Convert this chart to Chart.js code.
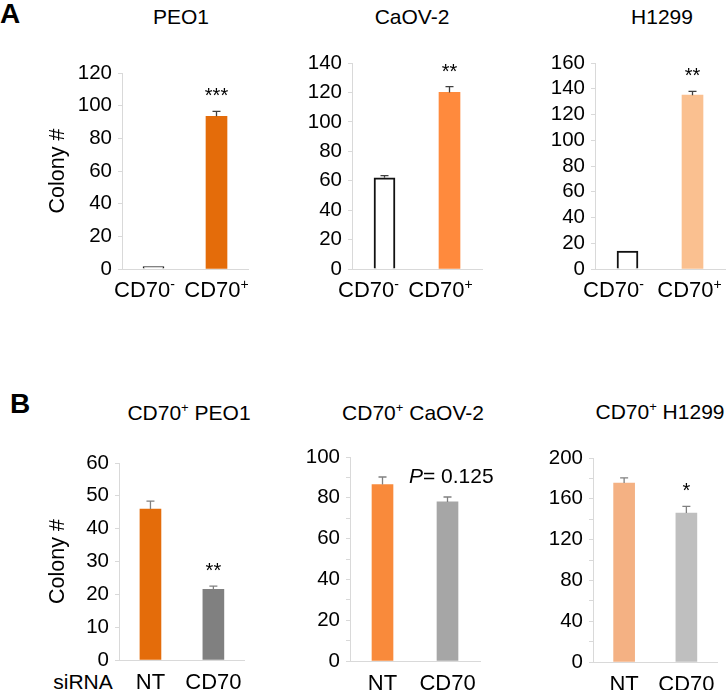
<!DOCTYPE html>
<html>
<head>
<meta charset="utf-8">
<script src="https://cdn.jsdelivr.net/npm/chart.js@4.4.1/dist/chart.umd.min.js"></script>
<style>
    body { margin: 0; background: #fff; }
    #fig { position: relative; width: 728px; height: 690px; overflow: hidden; font-family: "Liberation Sans", Arial, sans-serif; color: #000; }
    .panel { position: absolute; }
    .txt { position: absolute; transform: translate(-50%, -50%); white-space: nowrap; font-size: 21px; }
    .lbl { position: absolute; font-weight: bold; font-size: 28px; line-height: 1; }
    sup { font-size: 13px; vertical-align: 8px; line-height: 0; }
</style>
</head>
<body>
<div id="fig">
    <div class="lbl" style="left:0px; top:0px;">A</div>
    <div class="lbl" style="left:10px; top:390px;">B</div>

    <div class="txt" style="left:181px; top:17px;">PEO1</div>
    <div class="txt" style="left:412px; top:17px;">CaOV-2</div>
    <div class="txt" style="left:662px; top:17px;">H1299</div>

    <div class="txt" style="left:189px; top:413px;">CD70<sup>+</sup> PEO1</div>
    <div class="txt" style="left:413px; top:413px;">CD70<sup>+</sup> CaOV-2</div>
    <div class="txt" style="left:660px; top:412px;">CD70<sup>+</sup> H1299</div>

    <div class="txt" style="left:83px; top:682px;">siRNA</div>

    <div class="panel" style="left:0px; top:40px; width:250px; height:269px;"><canvas id="a1"></canvas></div>
    <div class="panel" style="left:290px; top:40px; width:194px; height:269px;"><canvas id="a2"></canvas></div>
    <div class="panel" style="left:533px; top:40px; width:194px; height:269px;"><canvas id="a3"></canvas></div>
    <div class="panel" style="left:0px; top:430px; width:252px; height:260px;"><canvas id="b1"></canvas></div>
    <div class="panel" style="left:288px; top:430px; width:220px; height:260px;"><canvas id="b2"></canvas></div>
    <div class="panel" style="left:531px; top:430px; width:194px; height:260px;"><canvas id="b3"></canvas></div>
</div>

<script>
// 데이터
const groupsA = ["CD70⁻", "CD70⁺"];
const groupsB = ["NT", "CD70"];

// A: CD70- vs CD70+ 콜로니 수
const peo1Colonies = [1.5, 93.5];
const peo1Err = [0, 3];
const peo1Stars = ["", "***"];

const caov2Colonies = [62, 120];
const caov2Err = [1.5, 4];
const caov2Stars = ["", "**"];

const h1299Colonies = [14, 135];
const h1299Err = [0, 3];
const h1299Stars = ["", "**"];

// B: siRNA NT vs CD70
const peo1SiColonies = [46, 21.5];
const peo1SiErr = [2.4, 1];
const peo1SiStars = ["", "**"];

const caov2SiColonies = [86.5, 78];
const caov2SiErr = [3.7, 2.4];

const h1299SiColonies = [175.5, 146];
const h1299SiErr = [5, 6.5];
const h1299SiStars = ["", "*"];

const FONT = '"Liberation Sans", Arial, sans-serif';
Chart.defaults.font.family = FONT;
Chart.defaults.color = "#000";

// 에러바 + 별표 + 위첨자 라벨 플러그인
const errorBars = {
    id: "errorBars",
    afterDatasetsDraw(chart, args, opts) {
        const ctx = chart.ctx;
        const y = chart.scales.y;
        const ds = chart.data.datasets[0];
        const meta = chart.getDatasetMeta(0);
        ctx.save();
        ctx.strokeStyle = opts.color || "#404040";
        ctx.lineWidth = 1.3;
        meta.data.forEach((bar, i) => {
            const v = ds.data[i];
            const e = (opts.errors || [])[i] || 0;
            const top = y.getPixelForValue(v + e);
            if (e > 0) {
                ctx.beginPath();
                ctx.moveTo(bar.x, bar.y);
                ctx.lineTo(bar.x, top);
                ctx.moveTo(bar.x - 4, top);
                ctx.lineTo(bar.x + 4, top);
                ctx.stroke();
            }
            const s = (opts.stars || [])[i];
            if (s) {
                ctx.fillStyle = "#000";
                ctx.font = "20px " + FONT;
                ctx.textAlign = "center";
                ctx.textBaseline = "alphabetic";
                ctx.fillText(s, bar.x, top - 9);
            }
        });
        // P 값 표시
        if (opts.pText) {
            const x0 = (meta.data[0].x + meta.data[1].x) / 2 - 6;
            const yp = y.getPixelForValue(opts.pAt);
            ctx.fillStyle = "#000";
            ctx.textAlign = "left";
            ctx.textBaseline = "middle";
            ctx.font = "italic 21px " + FONT;
            ctx.fillText("P", x0, yp);
            const w = ctx.measureText("P").width;
            ctx.font = "21px " + FONT;
            ctx.fillText(opts.pText, x0 + w, yp);
        }
        ctx.restore();
    },
    afterDraw(chart, args, opts) {
        if (!opts.supLabels) return;
        const ctx = chart.ctx;
        const x = chart.scales.x;
        const base = x.top + 28;
        const shift = opts.labelShift || [0, 0];
        ctx.save();
        ctx.fillStyle = "#000";
        ctx.textAlign = "left";
        ctx.textBaseline = "alphabetic";
        chart.data.labels.forEach((lab, i) => {
            const main = lab.slice(0, -1);
            const sup = lab.slice(-1) === "⁺" ? "+" : "-";
            ctx.font = "22px " + FONT;
            const wm = ctx.measureText(main).width;
            ctx.font = "14px " + FONT;
            const ws = ctx.measureText(sup).width;
            const cx = x.getPixelForTick(i) + shift[i];
            const x0 = cx - (wm + ws) / 2;
            ctx.font = "22px " + FONT;
            ctx.fillText(main, x0, base);
            ctx.font = "14px " + FONT;
            ctx.fillText(sup, x0 + wm, base - 8);
        });
        ctx.restore();
    },
};

function makeChart(id, labels, values, cfg) {
    const ctx = document.getElementById(id).getContext("2d");
    return new Chart(ctx, {
        type: "bar",
        data: {
            labels: labels,
            datasets: [
                {
                    data: values,
                    backgroundColor: cfg.colors,
                    borderColor: cfg.borders || "#000",
                    borderWidth: cfg.borderWidths || 0,
                    borderSkipped: "bottom",
                    barThickness: 21,
                },
            ],
        },
        options: {
            responsive: true,
            maintainAspectRatio: false,
            animation: false,
            layout: { padding: { left: cfg.pl || 0, top: cfg.pt, right: cfg.pr || 2, bottom: 0 } },
            plugins: {
                legend: { display: false },
                tooltip: { enabled: false },
                errorBars: {
                    errors: cfg.errors,
                    stars: cfg.stars,
                    color: cfg.errColor,
                    pText: cfg.pText,
                    pAt: cfg.pAt,
                    supLabels: !!cfg.supLabels,
                    labelShift: cfg.labelShift,
                },
            },
            scales: {
                x: {
                    afterFit: (s) => { s.height = cfg.xh; },
                    grid: { display: true, drawOnChartArea: false, drawTicks: false },
                    border: { color: "#d9d9d9", width: 1 },
                    ticks: {
                        display: !cfg.supLabels,
                        font: { size: 22 }, padding: cfg.xpad || 9, maxRotation: 0, autoSkip: false,
                    },
                },
                y: {
                    min: 0,
                    max: cfg.max,
                    afterFit: (s) => { s.width = cfg.yw; },
                    grid: { display: true, drawOnChartArea: false, drawTicks: true, tickLength: 4, color: "#d9d9d9" },
                    border: { color: "#d9d9d9", width: 1 },
                    ticks: {
                        stepSize: cfg.step,
                        autoSkip: false,
                        padding: 6,
                        font: { size: 20.5 },
                        callback: (v) => (v % cfg.labelEvery === 0 ? v : ""),
                    },
                    title: {
                        display: !!cfg.yTitle,
                        text: cfg.yTitle || "",
                        font: { size: 21.5 },
                        padding: { top: 4, bottom: 4 },
                    },
                },
            },
        },
        plugins: [errorBars],
    });
}

makeChart("a1", groupsA, peo1Colonies, {
    colors: ["#fff", "#E46C0A"], borderWidths: [1.5, 0], borders: ["#222", "#E46C0A"],
    errors: peo1Err, stars: peo1Stars, errColor: "#404040", supLabels: true, labelShift: [-9, 0],
    max: 120, step: 20, labelEvery: 20, yw: 81, pl: 41, pt: 33, xh: 40, yTitle: "Colony #",
});
makeChart("a2", groupsA, caov2Colonies, {
    colors: ["#fff", "#FF8A3D"], borderWidths: [2, 0], borders: ["#111", "#FF8A3D"],
    errors: caov2Err, stars: caov2Stars, errColor: "#404040", supLabels: true, labelShift: [-16, -9],
    max: 140, step: 20, labelEvery: 20, yw: 62, pt: 23, xh: 40,
});
makeChart("a3", groupsA, h1299Colonies, {
    colors: ["#fff", "#FAC090"], borderWidths: [2, 0], borders: ["#111", "#FAC090"],
    errors: h1299Err, stars: h1299Stars, errColor: "#404040", supLabels: true, labelShift: [-14, -3],
    max: 160, step: 20, labelEvery: 20, yw: 62, pt: 23, xh: 40,
});
makeChart("b1", groupsB, peo1SiColonies, {
    colors: ["#E46C0A", "#808080"],
    errors: peo1SiErr, stars: peo1SiStars, errColor: "#808080",
    max: 60, step: 10, labelEvery: 10, yw: 78, pl: 41, pt: 33, xh: 30, xpad: 10, yTitle: "Colony #",
});
makeChart("b2", groupsB, caov2SiColonies, {
    colors: ["#F98A3B", "#A6A6A6"],
    errors: caov2SiErr, errColor: "#808080", pText: "= 0.125", pAt: 90,
    max: 100, step: 10, labelEvery: 20, yw: 62, pt: 27, pr: 28, xh: 29, xpad: 10,
});
makeChart("b3", groupsB, h1299SiColonies, {
    colors: ["#F4B183", "#BFBFBF"],
    errors: h1299SiErr, stars: h1299SiStars, errColor: "#808080",
    max: 200, step: 20, labelEvery: 40, yw: 62, pt: 28, xh: 28, xpad: 10,
});
</script>
</body>
</html>
